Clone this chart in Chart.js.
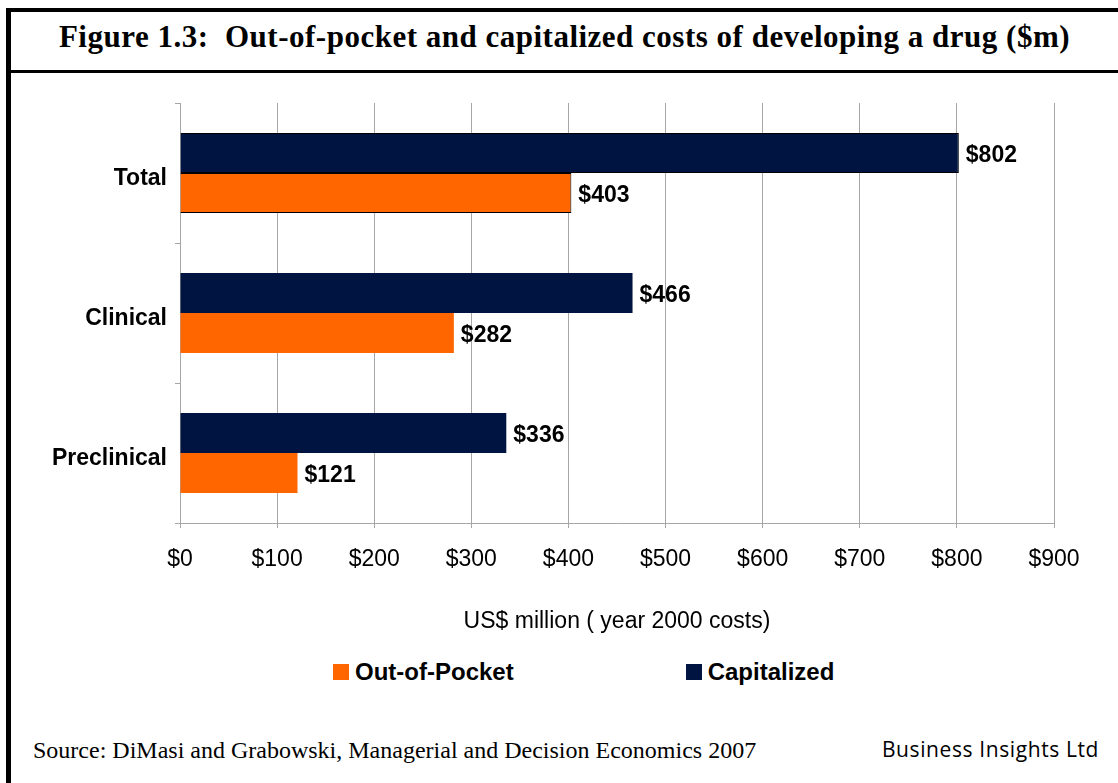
<!DOCTYPE html>
<html>
<head>
<meta charset="utf-8">
<script src="https://cdn.jsdelivr.net/npm/chart.js@4.4.1/dist/chart.umd.min.js"></script>
<style>
  body { margin: 0; background: #fff; }
  #page { position: relative; width: 1118px; height: 783px; background: #fff; overflow: hidden; }
  .bar-v { position: absolute; left: 6px; top: 8px; width: 5px; height: 775px; background: #000; }
  .bar-top { position: absolute; left: 6px; top: 8px; width: 1112px; height: 4px; background: #000; }
  .bar-sep { position: absolute; left: 6px; top: 70px; width: 1112px; height: 3px; background: #000; }
  #title { position: absolute; left: 11px; top: 21px; width: 1107px; height: 31px;
           text-align: center; font: bold 31px "Liberation Serif", "Times New Roman", serif;
           line-height: 31px; letter-spacing: 0.5px; color: #000; white-space: nowrap; }
  #wrap { position: absolute; left: 12px; top: 80px; width: 1100px; height: 560px; }
  #legend { position: absolute; left: 333px; top: 660px; display: flex; gap: 172px;
            font: bold 24px "Liberation Sans", Arial, sans-serif; line-height: 24px; color: #000; }
  #legend .item { display: flex; align-items: center; }
  #legend .sw { width: 16px; height: 16px; margin-right: 6px; }
  #source { position: absolute; left: 33px; top: 738px; font: 24px "Liberation Serif", "Times New Roman", serif;
            line-height: 24px; color: #000; white-space: nowrap; }
  #credit { position: absolute; right: 19px; top: 739px; font: 21px "Open Sans", sans-serif;
            line-height: 21px; letter-spacing: 0.6px; color: #000; white-space: nowrap; }
</style>
</head>
<body>
<div id="page">
  <div class="bar-v"></div>
  <div class="bar-top"></div>
  <div class="bar-sep"></div>
  <div id="title">Figure 1.3:&nbsp; Out-of-pocket and capitalized costs of developing a drug ($m)</div>
  <div id="wrap"><canvas id="chart"></canvas></div>
  <div id="legend"></div>
  <div id="source">Source: DiMasi and Grabowski, Managerial and Decision Economics 2007</div>
  <div id="credit">Business Insights Ltd</div>
</div>
<script>
const stages = ['Total', 'Clinical', 'Preclinical'];
const capitalized = [802, 466, 336];
const outOfPocket = [403, 282, 121];
const xTicks = [0, 100, 200, 300, 400, 500, 600, 700, 800, 900];

const navy = '#001441';
const orange = '#FF6600';
const gridGray = '#a6a6a6';
const sans = '"Liberation Sans", Arial, sans-serif';

const datasets = [
    {
        label: 'Capitalized',
        data: capitalized,
        backgroundColor: navy,
        borderColor: '#000',
        borderWidth: [1, 0, 0]
    },
    {
        label: 'Out-of-Pocket',
        data: outOfPocket,
        backgroundColor: orange,
        borderColor: '#000',
        borderWidth: [1, 0, 0]
    }
];

// value labels at the end of each bar
const barLabels = {
    id: 'barLabels',
    afterDatasetsDraw(chart) {
        const c = chart.ctx;
        c.save();
        c.font = 'bold 23px ' + sans;
        c.fillStyle = '#000';
        c.textAlign = 'left';
        c.textBaseline = 'middle';
        chart.data.datasets.forEach((ds, i) => {
            chart.getDatasetMeta(i).data.forEach((el, j) => {
                c.fillText('$' + ds.data[j], el.x + 7, el.y + 3);
            });
        });
        c.restore();
    }
};

new Chart(document.getElementById('chart'), {
    type: 'bar',
    data: { labels: stages, datasets: datasets },
    options: {
        indexAxis: 'y',
        responsive: true,
        maintainAspectRatio: false,
        animation: false,
        categoryPercentage: 0.57,
        barPercentage: 1,
        layout: { padding: { top: 23, right: 58, left: 0, bottom: 0 } },
        plugins: {
            legend: { display: false },
            tooltip: { enabled: false }
        },
        scales: {
            x: {
                min: 0,
                max: 900,
                afterBuildTicks: s => { s.ticks = xTicks.map(v => ({ value: v })); },
                afterFit: s => { s.height = 117; },
                grid: { color: gridGray, tickLength: 5, lineWidth: 1 },
                border: { color: gridGray },
                ticks: {
                    color: '#000',
                    padding: 18,
                    maxRotation: 0,
                    font: { family: sans, size: 23 },
                    callback: v => '$' + v
                },
                title: {
                    display: true,
                    text: 'US$ million ( year 2000 costs)',
                    color: '#000',
                    font: { family: sans, size: 23 },
                    padding: { top: 0, bottom: 5 }
                }
            },
            y: {
                afterFit: s => { s.width = 168; },
                grid: { offset: true, drawOnChartArea: false, color: gridGray, tickLength: 5 },
                border: { color: gridGray },
                ticks: {
                    color: '#000',
                    padding: 8,
                    labelOffset: 6,
                    font: { family: sans, size: 23, weight: 'bold' }
                }
            }
        }
    },
    plugins: [barLabels]
});

// legend in the reference order: Out-of-Pocket, then Capitalized
const legend = document.getElementById('legend');
datasets.slice().reverse().forEach(ds => {
    const item = document.createElement('div');
    item.className = 'item';
    item.innerHTML = '<span class="sw" style="background:' + ds.backgroundColor + '"></span>' + ds.label;
    legend.appendChild(item);
});
</script>
</body>
</html>
